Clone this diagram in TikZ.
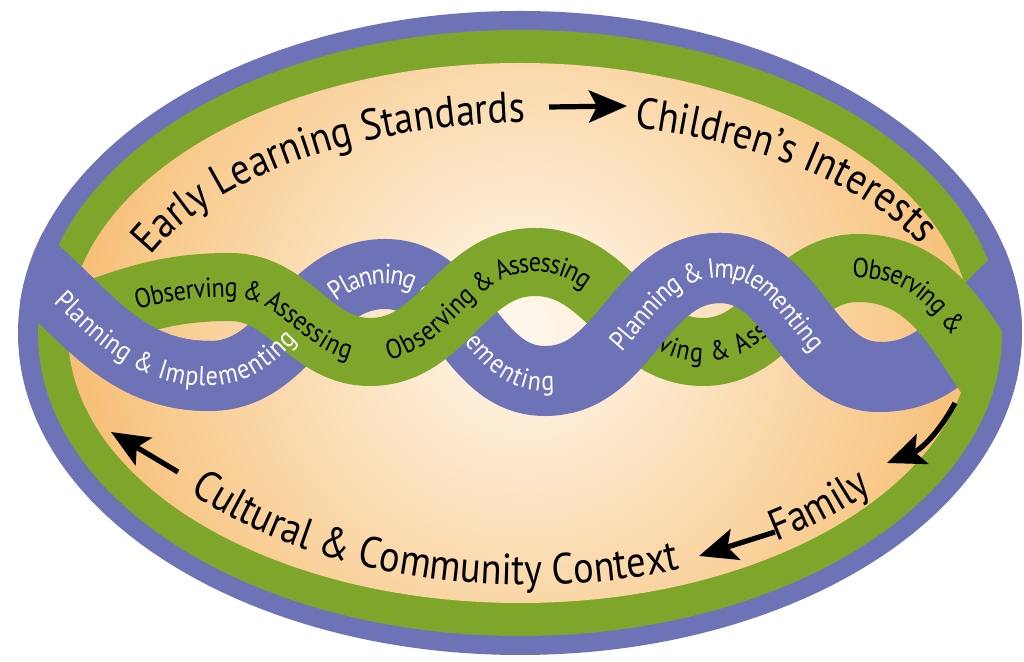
\documentclass[tikz,border=0pt]{standalone}
\usepackage{fontspec}
\setmainfont{PT Sans}[FakeStretch=0.88]
\usetikzlibrary{decorations.text,arrows.meta}
\definecolor{ringblue}{HTML}{6E73B8}
\definecolor{ringgreen}{HTML}{7DA62A}
\definecolor{glowcore}{HTML}{FFF8EE}
\definecolor{glowsoft}{HTML}{FDEBD2}
\definecolor{glowmid}{HTML}{F8CB8E}
\definecolor{glowdeep}{HTML}{F4AA4E}
\definecolor{glowrim}{HTML}{F29A22}
\pgfdeclareradialshading{warmglow}{\pgfpoint{0bp}{0bp}}{color(0bp)=(glowcore); color(6bp)=(glowsoft); color(20bp)=(glowmid); color(32bp)=(glowdeep); color(40bp)=(glowrim); color(50bp)=(glowrim)}
\newcommand\ribbonfont{\fontsize{19.5}{19.5}\selectfont}
\newcommand\ringfont{\fontsize{31}{31}\selectfont}
\tikzset{
  blueband/.style={draw=ringblue, line width=1.75cm},
  greenband/.style={draw=ringgreen, line width=1.7cm},
  bluetext/.style={decorate, decoration={text along path, text color=white, raise=-7pt, text align={left indent=#1}}},
  greentext/.style={decorate, decoration={text along path, text color=black, raise=-7pt, text align={left indent=#1}}},
  ringtext/.style={decorate, decoration={text along path, text color=black, text align={left indent=#1}}},
  bigarrow/.style={line width=0.13cm, -{Stealth[length=0.95cm, width=0.8cm, inset=0.2cm]}}
}
\begin{document}
\begin{tikzpicture}[x=0.025cm, y=0.025cm]
\useasboundingbox (0,0) rectangle (1024,662);
\fill[white] (0,0) rectangle (1024,662);
% rings
\fill[ringblue] (520,329) ellipse[x radius=502, y radius=322];
\fill[ringgreen] (520,329) ellipse[x radius=482, y radius=303];
\begin{scope}
  \clip (520,329) ellipse[x radius=452, y radius=270];
  \shade[shading=warmglow] (525,335) circle[radius=460];
\end{scope}
% words round the ring
\path[ringtext=0pt, decoration={text={|\ringfont|Early Learning Standards}}] (150.6,406.2) arc[start angle=158, end angle=60, x radius=420, y radius=214];
\path[ringtext=0pt, decoration={text={|\ringfont|Children’s Interests}}] (634.5,534.5) arc[start angle=77, end angle=0, x radius=420, y radius=214];
\path[ringtext=0pt, decoration={text={|\ringfont|Cultural {\&} Community Context}}] (190,170) arc[start angle=219.5, end angle=320, x radius=440, y radius=255];
\path[ringtext=0pt, decoration={text={|\ringfont|Family}}] (776,120.6) arc[start angle=304, end angle=350, x radius=440, y radius=255];
% arrows
\coordinate (standardsEnd) at (549,555);
\coordinate (interestsStart) at (627,556);
\draw[bigarrow] (standardsEnd) -- (interestsStart);
\coordinate (interestsEnd) at (955,259);
\coordinate (familyStart) at (887,199);
\draw[bigarrow] (interestsEnd) to[bend left=20] (familyStart);
\coordinate (familyEnd) at (775,130);
\coordinate (contextEnd) at (699,106);
\draw[bigarrow] (familyEnd) -- (contextEnd);
\coordinate (culturalStart) at (178,190);
\coordinate (standardsStart) at (111,230);
\draw[bigarrow] (culturalStart) -- (standardsStart);
% blue ribbon, under part
\begin{scope}
  \clip (520,329) ellipse[x radius=502, y radius=322];
  \draw[blueband] (10,412) to[out=-38,in=180] (210,286) to[out=0,in=180] (385,388) to[out=0,in=180] (545,281) to[out=0,in=180] (720,394) to[out=0,in=180] (880,285) to[out=0,in=-145] (1030,390);
  \path[bluetext=3.75cm, decoration={text={|\ribbonfont|Planning {\&} Implementing}}] (210,286) to[out=0,in=180] (385,388) to[out=0,in=180] (545,281) to[out=0,in=180] (720,394);
\end{scope}
% green ribbon
\begin{scope}
  \clip (520,329) ellipse[x radius=482, y radius=303];
  \draw[greenband] (78,342) to[out=20,in=180] (230,375) to[out=0,in=180] (370,310) to[out=0,in=180] (535,400) to[out=0,in=180] (703,310) to[out=0,in=180] (858,394) to[out=0,in=128] (1015,252);
  \path[greentext=1.5cm, decoration={text={|\ribbonfont|Observing {\&} Assessing}}] (78,342) to[out=20,in=180] (230,375) to[out=0,in=180] (370,310);
  \path[greentext=0.4cm, decoration={text={|\ribbonfont|Observing {\&} Assessing}}] (370,310) to[out=0,in=180] (535,400) to[out=0,in=180] (703,310);
  \path[greentext=2.3cm, decoration={text={|\ribbonfont|Observing {\&} Assessing}}] (535,400) to[out=0,in=180] (703,310) to[out=0,in=180] (858,394);
  \path[greentext=4.4cm, decoration={text={|\ribbonfont|Observing {\&}}}] (703,310) to[out=0,in=180] (858,394) to[out=0,in=128] (1015,252);
\end{scope}
% blue ribbon, over parts
\begin{scope}
  \clip (520,329) ellipse[x radius=502, y radius=322];
  \draw[blueband] (10,412) to[out=-38,in=180] (210,286);
  \path[bluetext=1.7cm, decoration={text={|\ribbonfont|Planning {\&} Implementing}}] (10,412) to[out=-38,in=180] (210,286) to[out=0,in=180] (385,388);
\end{scope}
\begin{scope}
  \clip (572,0) rectangle (1024,662);
  \draw[blueband] (545,281) to[out=0,in=180] (720,394) to[out=0,in=180] (880,285);
  \path[bluetext=2cm, decoration={text={|\ribbonfont|Planning {\&} Implementing}}] (545,281) to[out=0,in=180] (720,394) to[out=0,in=180] (880,285);
\end{scope}
\end{tikzpicture}
\end{document}
